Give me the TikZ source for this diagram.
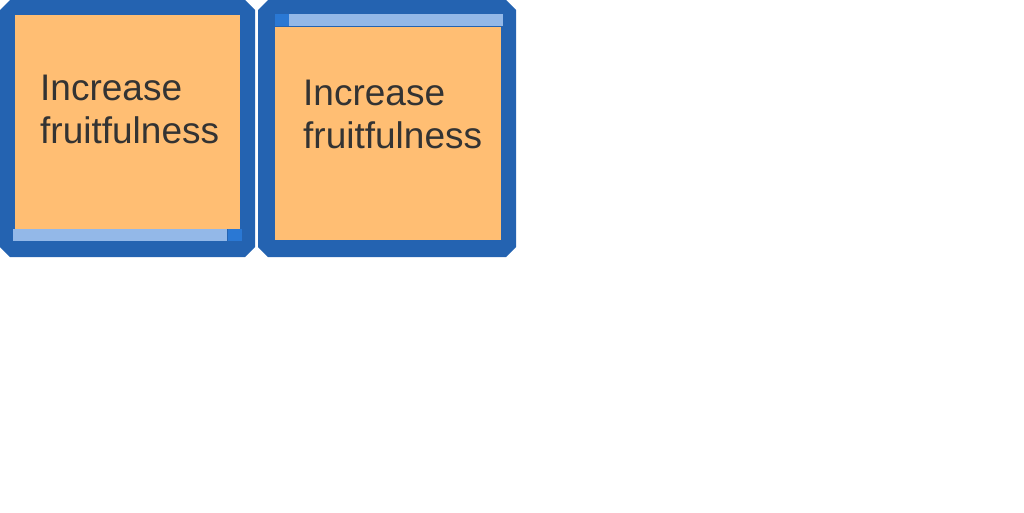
\documentclass[tikz,border=0pt]{standalone}
\usepackage{fontspec}
\setmainfont{Liberation Sans}
\usetikzlibrary{positioning}
\definecolor{frameblue}{RGB}{36,99,177}
\definecolor{noteorange}{RGB}{255,190,115}
\definecolor{barblue}{RGB}{147,184,232}
\definecolor{gripblue}{RGB}{42,120,212}
\definecolor{textgray}{RGB}{51,51,51}
\tikzstyle{frame} = [fill=frameblue]
\tikzstyle{note} = [rectangle, fill=noteorange, inner sep=0pt,
    minimum height=213pt, anchor=north west]
\tikzstyle{bar} = [rectangle, fill=barblue, inner sep=0pt,
    minimum width=214pt, minimum height=12pt, anchor=north west]
\tikzstyle{grip} = [rectangle, fill=gripblue, inner sep=0pt,
    minimum width=14pt, minimum height=12pt]
\tikzstyle{notetext} = [inner sep=0pt, anchor=base west, align=left,
    text=textgray, font=\fontsize{37}{43}\selectfont]

\begin{document}
\begin{tikzpicture}[x=1pt, y=-1pt]
    \useasboundingbox (0,0) rectangle (1024,512);

    % chamfered frames
    \fill[frame] (10,0) -- (245,0) -- (255,10) -- (255,247) -- (245,257)
        -- (10,257) -- (0,247) -- (0,10) -- cycle;
    \fill[frame] (268,0) -- (506,0) -- (516,10) -- (516,247) -- (506,257)
        -- (268,257) -- (258,247) -- (258,10) -- cycle;

    \node[note, minimum width=225pt, minimum height=214pt] (noteA) at (15,15) {};
    \node[bar] (barA) at (13,229) {};
    \node[grip, right=0pt of barA] (gripA) {};

    \node[note, minimum width=226pt] (noteB) at (275,27) {};
    \node[bar] (barB) at (289,14) {};
    \node[grip, left=0pt of barB] (gripB) {};

    \node[notetext] (textA) at (40,143) {Increase\\fruitfulness};
    \node[notetext] (textB) at (303,148) {Increase\\fruitfulness};
\end{tikzpicture}
\end{document}
